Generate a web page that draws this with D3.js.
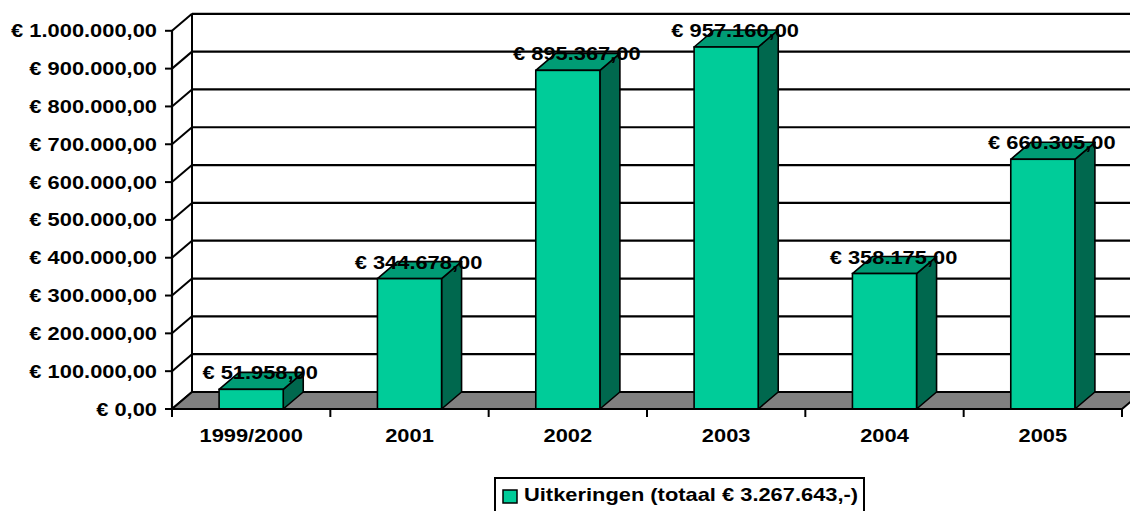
<!DOCTYPE html>
<html>
<head>
<meta charset="utf-8">
<script src="https://cdn.jsdelivr.net/npm/d3@7"></script>
<style>
  body { margin: 0; background: #fff; }
  text { font-family: "Liberation Sans", Arial, sans-serif; font-weight: bold; font-size: 17.5px; fill: #000; }
</style>
</head>
<body>
<div id="chart"></div>
<script>
// chart data
var categories = ["1999/2000", "2001", "2002", "2003", "2004", "2005"];
var values = [51958, 344678, 895367, 957160, 358175, 660305];
var tickValues = [0, 100000, 200000, 300000, 400000, 500000, 600000, 700000, 800000, 900000, 1000000];
var seriesName = "Uitkeringen (totaal € 3.267.643,-)";

var svgWidth = 1130;
var svgHeight = 511;

// 3d depth offset
var dx = 20, dy = -17;
var stretch = 1.25; // text is wider than tall in the picture

var svg = d3.select("#chart")
  .append("svg")
  .attr("width", svgWidth)
  .attr("height", svgHeight);

var nl = d3.formatLocale({
  decimal: ",",
  thousands: ".",
  grouping: [3],
  currency: ["€ ", ""]
});
var euro = nl.format("$,.2f");

var x = d3.scaleBand()
  .domain(categories)
  .range([172, 1122])
  .padding(0);

var y = d3.scaleLinear()
  .domain([0, 1000000])
  .range([409, 30.8]);

var barW = x.bandwidth() * 0.405;

// side wall lines
svg.selectAll(".side")
  .data(tickValues)
  .enter()
  .append("line")
  .attr("x1", x.range()[0])
  .attr("y1", d => y(d))
  .attr("x2", x.range()[0] + dx)
  .attr("y2", d => y(d) + dy)
  .attr("stroke", "#000")
  .attr("stroke-width", 2);

// back wall gridlines
svg.selectAll(".grid")
  .data(tickValues)
  .enter()
  .append("line")
  .attr("x1", x.range()[0] + dx)
  .attr("y1", d => y(d) + dy)
  .attr("x2", x.range()[1] + dx)
  .attr("y2", d => y(d) + dy)
  .attr("stroke", "#000")
  .attr("stroke-width", 2.2);

// back wall left edge
svg.append("line")
  .attr("x1", x.range()[0] + dx)
  .attr("y1", y(1000000) + dy)
  .attr("x2", x.range()[0] + dx)
  .attr("y2", y(0) + dy)
  .attr("stroke", "#000")
  .attr("stroke-width", 2);

// floor
var x0 = x.range()[0], x1 = x.range()[1], y0 = y(0);
svg.append("polygon")
  .attr("points", [[x0, y0], [x1, y0], [x1 + dx, y0 + dy], [x0 + dx, y0 + dy]].join(" "))
  .attr("fill", "#808080")
  .attr("stroke", "#000")
  .attr("stroke-width", 2);

// bars
var bars = svg.selectAll(".bar")
  .data(values)
  .enter()
  .append("g");

bars.each(function(d, i) {
  var g = d3.select(this);
  var bx = x(categories[i]) + (x.bandwidth() - barW) / 2;
  var top = y(d);
  // side
  g.append("polygon")
    .attr("points", [[bx + barW, top], [bx + barW + dx, top + dy], [bx + barW + dx, y0 + dy], [bx + barW, y0]].join(" "))
    .attr("fill", "#00684E")
    .attr("stroke", "#000")
    .attr("stroke-width", 1.6)
    .attr("stroke-linejoin", "round");
  // top
  g.append("polygon")
    .attr("points", [[bx, top], [bx + dx, top + dy], [bx + barW + dx, top + dy], [bx + barW, top]].join(" "))
    .attr("fill", "#009C75")
    .attr("stroke", "#000")
    .attr("stroke-width", 1.6)
    .attr("stroke-linejoin", "round");
  // front
  g.append("rect")
    .attr("x", bx)
    .attr("y", top)
    .attr("width", barW)
    .attr("height", y0 - top)
    .attr("fill", "#00CC99")
    .attr("stroke", "#000")
    .attr("stroke-width", 1.6);
});

// value labels
svg.selectAll(".vlabel")
  .data(values)
  .enter()
  .append("text")
  .attr("transform", (d, i) => `translate(${x(categories[i]) + x.bandwidth() / 2 + 9}, ${y(d) - 10}) scale(${stretch},1)`)
  .attr("text-anchor", "middle")
  .text(d => euro(d));

// y axis
svg.append("line")
  .attr("x1", x0).attr("y1", y(1000000))
  .attr("x2", x0).attr("y2", y0)
  .attr("stroke", "#000").attr("stroke-width", 2.2);

svg.selectAll(".ytick")
  .data(tickValues)
  .enter()
  .append("line")
  .attr("x1", x0 - 7).attr("x2", x0)
  .attr("y1", d => y(d)).attr("y2", d => y(d))
  .attr("stroke", "#000").attr("stroke-width", 2);

svg.selectAll(".ylabel")
  .data(tickValues)
  .enter()
  .append("text")
  .attr("transform", d => `translate(157, ${y(d) + 6.5}) scale(${stretch},1)`)
  .attr("text-anchor", "end")
  .text(d => euro(d));

// x axis
svg.append("line")
  .attr("x1", x0).attr("y1", y0)
  .attr("x2", x1).attr("y2", y0)
  .attr("stroke", "#000").attr("stroke-width", 2.2);

var bounds = categories.map(c => x(c)).concat([x1]);
svg.selectAll(".xtick")
  .data(bounds)
  .enter()
  .append("line")
  .attr("x1", d => d).attr("x2", d => d)
  .attr("y1", y0).attr("y2", y0 + 8)
  .attr("stroke", "#000").attr("stroke-width", 2);

svg.selectAll(".xlabel")
  .data(categories)
  .enter()
  .append("text")
  .attr("transform", d => `translate(${x(d) + x.bandwidth() / 2}, 442) scale(${stretch},1)`)
  .attr("text-anchor", "middle")
  .text(d => d);

// legend
var legend = svg.append("g");
legend.append("rect")
  .attr("x", 495).attr("y", 478)
  .attr("width", 369).attr("height", 45)
  .attr("fill", "#fff")
  .attr("stroke", "#000").attr("stroke-width", 2);
legend.append("rect")
  .attr("x", 503).attr("y", 490)
  .attr("width", 14).attr("height", 13)
  .attr("fill", "#00CC99")
  .attr("stroke", "#000").attr("stroke-width", 1.5);
legend.append("text")
  .attr("transform", `translate(524, 501) scale(${stretch},1)`)
  .text(seriesName);
</script>
</body>
</html>
